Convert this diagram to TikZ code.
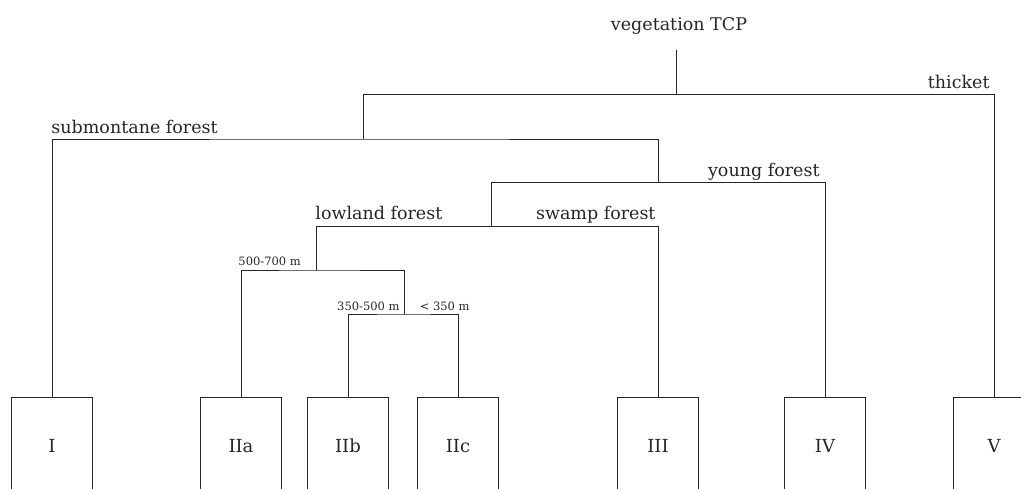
\documentclass[tikz,border=0pt]{standalone}
\usepackage{fontspec}
\setmainfont{DejaVu Serif}
\begin{document}
\begin{tikzpicture}[x=1pt,y=-1pt, line width=0.9pt, draw=black!85, text=black!85,
  lab/.style={font=\fontsize{17.5}{20}\selectfont, inner sep=0pt},
  small/.style={font=\fontsize{11.5}{13}\selectfont, inner sep=0pt},
  leaf/.style={draw, minimum width=81pt, minimum height=98pt, inner sep=0pt, font=\fontsize{18}{20}\selectfont},
]
\useasboundingbox (0,0) rectangle (1021,489);
\clip (0,0) rectangle (1021,489);
% leaves
\node[leaf] (I) at (52,446) {I};
\node[leaf] (IIa) at (241,446) {IIa};
\node[leaf] (IIb) at (348,446) {IIb};
\node[leaf] (IIc) at (458,446) {IIc};
\node[leaf] (III) at (658,446) {III};
\node[leaf] (IV) at (825,446) {IV};
\node[leaf] (V) at (994,446) {V};
% junctions
\coordinate (r) at (676,50);
\coordinate (n1) at (676,94);
\coordinate (n2) at (363,139);
\coordinate (n3) at (658,182);
\coordinate (n4) at (491,226);
\coordinate (n5) at (316,270);
\coordinate (n6) at (404,314);
% connectors
\draw (r) -- (n1);
\draw (n2) |- (V.north |- n1) -- (V.north);
\draw (I.north) |- (n2) -| (n3);
\draw (n4) |- (IV.north |- n3) -- (IV.north);
\draw (n5) |- (III.north |- n4) -- (III.north);
\draw (IIa.north) |- (n5) -| (n6);
\draw (IIb.north) |- (n6) -| (IIc.north);
% labels
\node[lab, anchor=base] (root) at (679,31) {vegetation TCP};
\node[lab, anchor=base east] (lthicket) at (990,89) {thicket};
\node[lab, anchor=base west] (lsub) at (51,134) {submontane forest};
\node[lab, anchor=base east] (lyoung) at (820,177) {young forest};
\node[lab, anchor=base west] (llow) at (315,220) {lowland forest};
\node[lab, anchor=base east] (lswamp) at (656,220) {swamp forest};
\node[small, anchor=base west] (l57) at (238,266) {500-700 m};
\node[small, anchor=base east] (l35) at (400,311) {350-500 m};
\node[small, anchor=base east] (l3) at (470,311) {< 350 m};
\end{tikzpicture}
\end{document}
